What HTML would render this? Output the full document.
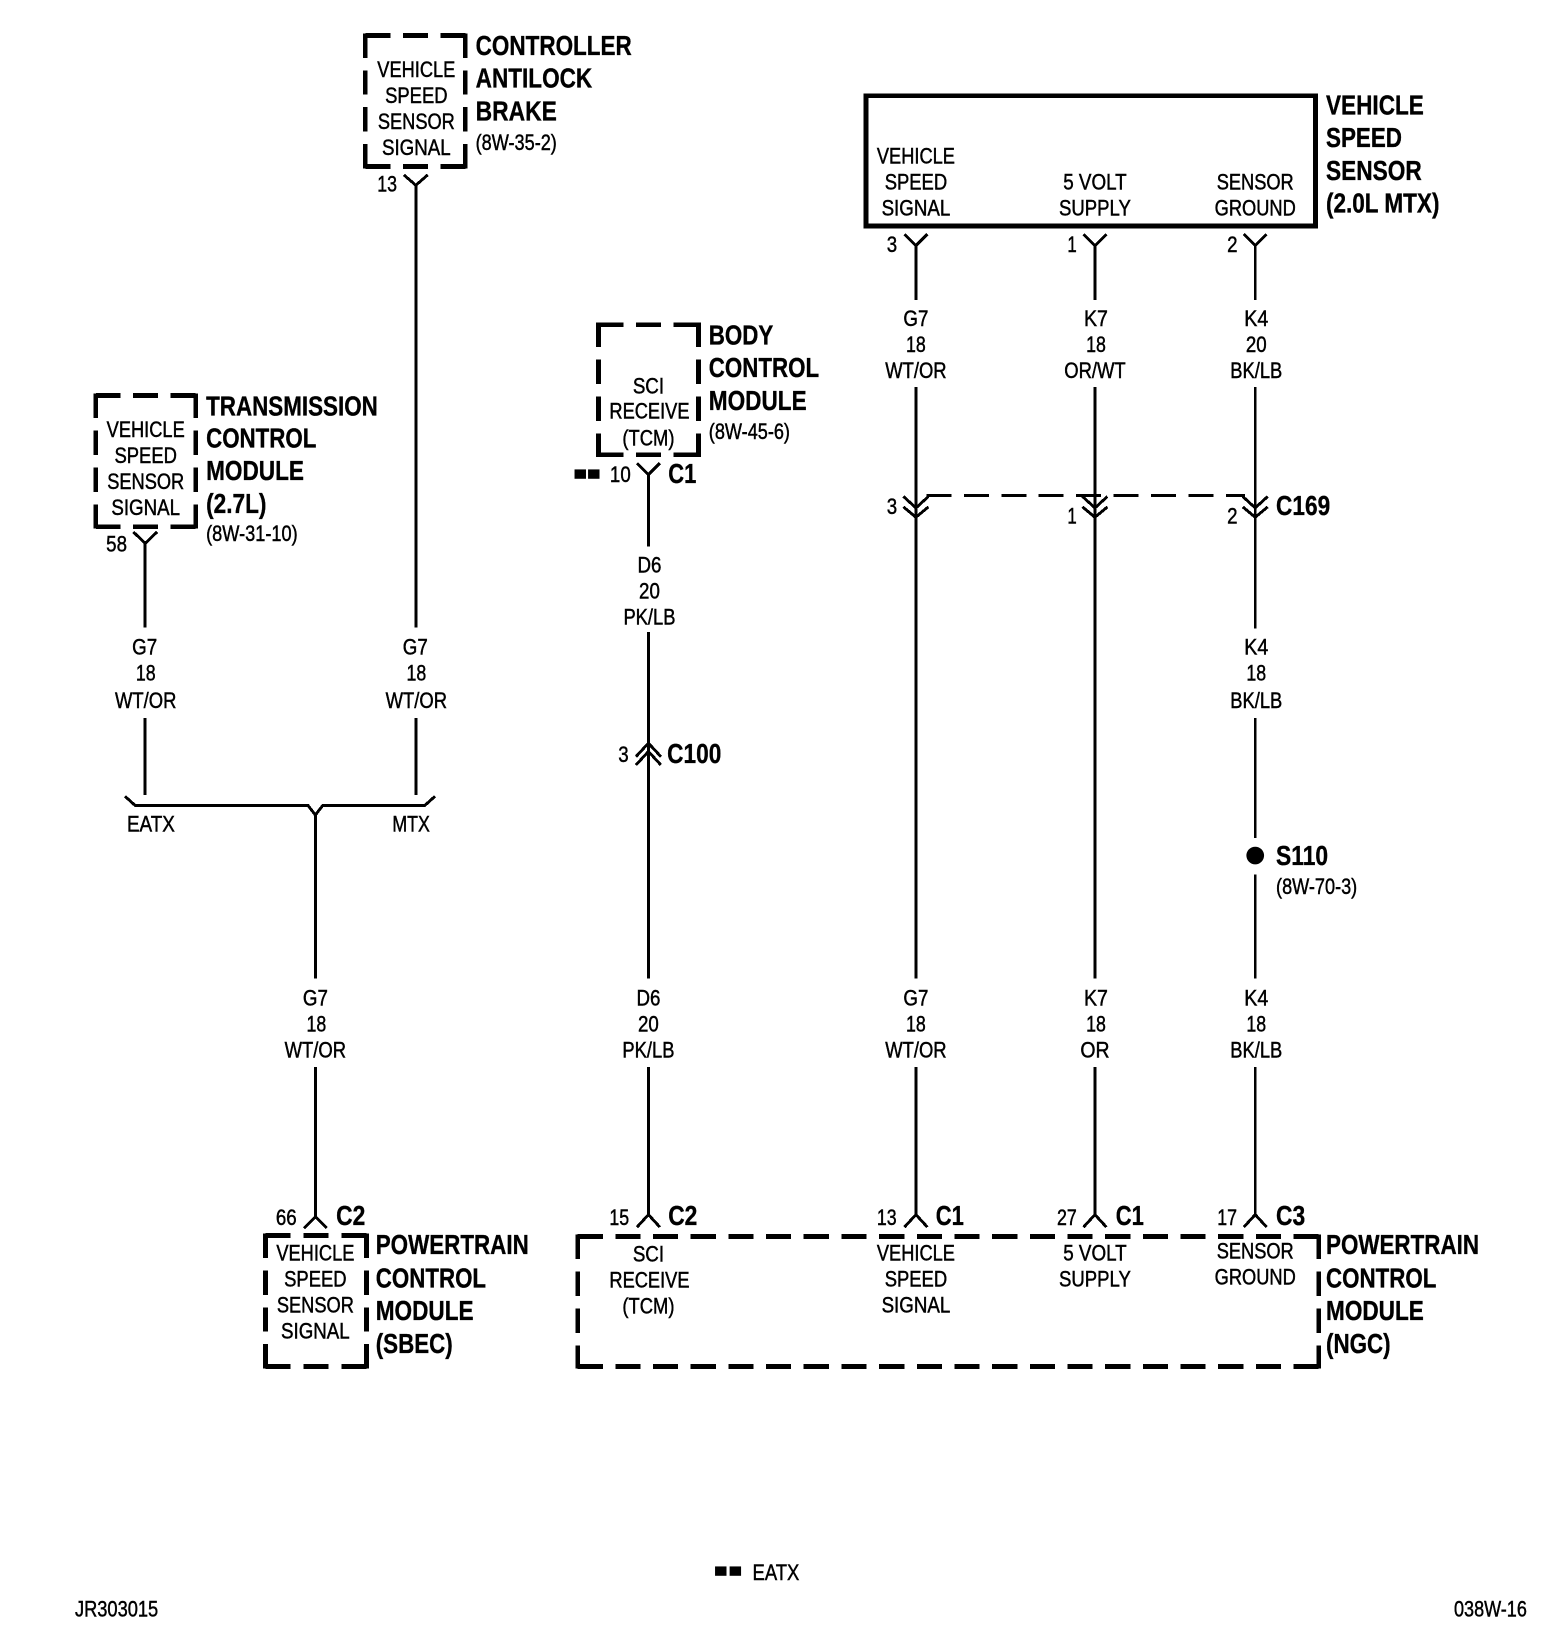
<!DOCTYPE html>
<html><head><meta charset="utf-8"><style>
html,body{margin:0;padding:0;background:#fff;width:1568px;height:1632px;overflow:hidden}
svg{display:block}
text{font-family:"Liberation Sans",sans-serif;fill:#000}
.r{font-size:21px;text-anchor:middle;stroke:#000;stroke-width:.45}
.l{font-size:21px;stroke:#000;stroke-width:.45}
.b{font-size:27px;font-weight:bold;stroke:#000;stroke-width:.35}
.w{fill:none;stroke:#000;stroke-width:2.8;shape-rendering:crispEdges}
.d{fill:none;stroke:#000;stroke-width:4.6;shape-rendering:crispEdges}
</style></head><body>
<svg width="1568" height="1632" viewBox="0 0 1506.5 1568" xmlns="http://www.w3.org/2000/svg">
<!-- dashed boxes -->
<g class="d">
<path d="M351 34H447M351 160H447" stroke-dasharray="24 12"/><path d="M351 32V162M447 32V162" stroke-dasharray="23.5 12"/>
<path d="M575 312H671M575 437H671" stroke-dasharray="24 12"/><path d="M575 310V439M671 310V439" stroke-dasharray="23.5 12"/>
<path d="M92 380H188M92 506H188" stroke-dasharray="24 12"/><path d="M92 378V508M188 378V508" stroke-dasharray="23.5 12"/>
<path d="M255 1187H352M255 1313H352" stroke-dasharray="24 12.5"/><path d="M255 1185V1315M352 1185V1315" stroke-dasharray="23.5 12"/>
<path d="M555 1188H1267M555 1313H1267" stroke-dasharray="24.2 12"/><path d="M555 1186V1315M1267 1186V1315" stroke-dasharray="23.5 12"/>
<rect x="832" y="92" width="432" height="125"/>
</g>
<!-- wires -->
<g class="w">
<path d="M399.5 178V603M399.5 690V764M388 168L399.5 178L411 168"/>
<path d="M139.5 522V603M139.5 690V764M128 511L139.5 522L151 511"/>
<path d="M120 765L130 774H296L303 783L310 774H408L418 765"/>
<path d="M303 783V940M303 1025V1169M292 1180L303 1169L314 1180"/>
<path d="M623 456V525M623 607V940M623 1025V1167M612 445L623 456L634 445M612 1179L623 1167L634 1179"/>
<path d="M611 727L623 714L635 727M611 735L623 722L635 735"/>
<path d="M880 236V288M880 372V940M880 1025V1167M869 225L880 236L891 225M869 1179L880 1167L891 1179"/>
<path d="M1052 236V288M1052 372V940M1052 1025V1167M1041 225L1052 236L1063 225M1041 1179L1052 1167L1063 1179"/>
<path d="M1206 236V288M1206 372V604M1206 690V805M1206 840V940M1206 1025V1167M1195 225L1206 236L1217 225M1195 1179L1206 1167L1217 1179"/>
<path d="M868 477L880 488L892 477M868 487L880 497L892 487"/>
<path d="M1040 477L1052 488L1064 477M1040 487L1052 497L1064 487"/>
<path d="M1194 477L1206 488L1218 477M1194 487L1206 497L1218 487"/>
<path d="M890 476H1196" stroke-dasharray="24 12"/>
</g>
<circle cx="1206" cy="822" r="8.5"/>
<rect x="552" y="451" width="11" height="9"/><rect x="565" y="451" width="11" height="9"/>
<rect x="687" y="1505" width="11" height="9"/><rect x="701" y="1505" width="11" height="9"/>
<!-- box labels -->
<g class="r">
<text lengthAdjust="spacingAndGlyphs" x="400" y="74" textLength="75">VEHICLE</text><text lengthAdjust="spacingAndGlyphs" x="400" y="99" textLength="60">SPEED</text><text lengthAdjust="spacingAndGlyphs" x="400" y="124" textLength="74">SENSOR</text><text lengthAdjust="spacingAndGlyphs" x="400" y="149" textLength="66">SIGNAL</text>
<text lengthAdjust="spacingAndGlyphs" x="140" y="420" textLength="75">VEHICLE</text><text lengthAdjust="spacingAndGlyphs" x="140" y="445" textLength="60">SPEED</text><text lengthAdjust="spacingAndGlyphs" x="140" y="470" textLength="74">SENSOR</text><text lengthAdjust="spacingAndGlyphs" x="140" y="495" textLength="66">SIGNAL</text>
<text lengthAdjust="spacingAndGlyphs" x="623" y="378" textLength="30">SCI</text><text lengthAdjust="spacingAndGlyphs" x="624" y="402" textLength="77">RECEIVE</text><text lengthAdjust="spacingAndGlyphs" x="623" y="428" textLength="50">(TCM)</text>
<text lengthAdjust="spacingAndGlyphs" x="880" y="157" textLength="75">VEHICLE</text><text lengthAdjust="spacingAndGlyphs" x="880" y="182" textLength="60">SPEED</text><text lengthAdjust="spacingAndGlyphs" x="880" y="207" textLength="66">SIGNAL</text>
<text lengthAdjust="spacingAndGlyphs" x="1052" y="182" textLength="61">5 VOLT</text><text lengthAdjust="spacingAndGlyphs" x="1052" y="207" textLength="69">SUPPLY</text>
<text lengthAdjust="spacingAndGlyphs" x="1206" y="182" textLength="74">SENSOR</text><text lengthAdjust="spacingAndGlyphs" x="1206" y="207" textLength="78">GROUND</text>
<text lengthAdjust="spacingAndGlyphs" x="303" y="1211" textLength="75">VEHICLE</text><text lengthAdjust="spacingAndGlyphs" x="303" y="1236" textLength="60">SPEED</text><text lengthAdjust="spacingAndGlyphs" x="303" y="1261" textLength="74">SENSOR</text><text lengthAdjust="spacingAndGlyphs" x="303" y="1286" textLength="66">SIGNAL</text>
<text lengthAdjust="spacingAndGlyphs" x="623" y="1212" textLength="30">SCI</text><text lengthAdjust="spacingAndGlyphs" x="624" y="1237" textLength="77">RECEIVE</text><text lengthAdjust="spacingAndGlyphs" x="623" y="1262" textLength="50">(TCM)</text>
<text lengthAdjust="spacingAndGlyphs" x="880" y="1211" textLength="75">VEHICLE</text><text lengthAdjust="spacingAndGlyphs" x="880" y="1236" textLength="60">SPEED</text><text lengthAdjust="spacingAndGlyphs" x="880" y="1261" textLength="66">SIGNAL</text>
<text lengthAdjust="spacingAndGlyphs" x="1052" y="1211" textLength="61">5 VOLT</text><text lengthAdjust="spacingAndGlyphs" x="1052" y="1236" textLength="69">SUPPLY</text>
<text lengthAdjust="spacingAndGlyphs" x="1206" y="1209" textLength="74">SENSOR</text><text lengthAdjust="spacingAndGlyphs" x="1206" y="1234" textLength="78">GROUND</text>
<!-- wire labels -->
<text lengthAdjust="spacingAndGlyphs" x="139" y="629" textLength="24">G7</text><text lengthAdjust="spacingAndGlyphs" x="140" y="654" textLength="19">18</text><text lengthAdjust="spacingAndGlyphs" x="140" y="680" textLength="59">WT/OR</text>
<text lengthAdjust="spacingAndGlyphs" x="399" y="629" textLength="24">G7</text><text lengthAdjust="spacingAndGlyphs" x="400" y="654" textLength="19">18</text><text lengthAdjust="spacingAndGlyphs" x="400" y="680" textLength="59">WT/OR</text>
<text lengthAdjust="spacingAndGlyphs" x="624" y="550" textLength="23">D6</text><text lengthAdjust="spacingAndGlyphs" x="624" y="575" textLength="20">20</text><text lengthAdjust="spacingAndGlyphs" x="624" y="600" textLength="50">PK/LB</text>
<text lengthAdjust="spacingAndGlyphs" x="880" y="313" textLength="24">G7</text><text lengthAdjust="spacingAndGlyphs" x="880" y="338" textLength="19">18</text><text lengthAdjust="spacingAndGlyphs" x="880" y="363" textLength="59">WT/OR</text>
<text lengthAdjust="spacingAndGlyphs" x="1053" y="313" textLength="23">K7</text><text lengthAdjust="spacingAndGlyphs" x="1053" y="338" textLength="19">18</text><text lengthAdjust="spacingAndGlyphs" x="1052" y="363" textLength="59">OR/WT</text>
<text lengthAdjust="spacingAndGlyphs" x="1207" y="313" textLength="23">K4</text><text lengthAdjust="spacingAndGlyphs" x="1207" y="338" textLength="20">20</text><text lengthAdjust="spacingAndGlyphs" x="1207" y="363" textLength="50">BK/LB</text>
<text lengthAdjust="spacingAndGlyphs" x="1207" y="629" textLength="23">K4</text><text lengthAdjust="spacingAndGlyphs" x="1207" y="654" textLength="19">18</text><text lengthAdjust="spacingAndGlyphs" x="1207" y="680" textLength="50">BK/LB</text>
<text lengthAdjust="spacingAndGlyphs" x="303" y="966" textLength="24">G7</text><text lengthAdjust="spacingAndGlyphs" x="304" y="991" textLength="19">18</text><text lengthAdjust="spacingAndGlyphs" x="303" y="1016" textLength="59">WT/OR</text>
<text lengthAdjust="spacingAndGlyphs" x="623" y="966" textLength="23">D6</text><text lengthAdjust="spacingAndGlyphs" x="623" y="991" textLength="20">20</text><text lengthAdjust="spacingAndGlyphs" x="623" y="1016" textLength="50">PK/LB</text>
<text lengthAdjust="spacingAndGlyphs" x="880" y="966" textLength="24">G7</text><text lengthAdjust="spacingAndGlyphs" x="880" y="991" textLength="19">18</text><text lengthAdjust="spacingAndGlyphs" x="880" y="1016" textLength="59">WT/OR</text>
<text lengthAdjust="spacingAndGlyphs" x="1053" y="966" textLength="23">K7</text><text lengthAdjust="spacingAndGlyphs" x="1053" y="991" textLength="19">18</text><text lengthAdjust="spacingAndGlyphs" x="1052" y="1016" textLength="28">OR</text>
<text lengthAdjust="spacingAndGlyphs" x="1207" y="966" textLength="23">K4</text><text lengthAdjust="spacingAndGlyphs" x="1207" y="991" textLength="19">18</text><text lengthAdjust="spacingAndGlyphs" x="1207" y="1016" textLength="50">BK/LB</text>
<text lengthAdjust="spacingAndGlyphs" x="145" y="799" textLength="46">EATX</text><text lengthAdjust="spacingAndGlyphs" x="395" y="799" textLength="36">MTX</text>
<!-- pins -->
<text lengthAdjust="spacingAndGlyphs" x="372" y="184" textLength="19">13</text><text lengthAdjust="spacingAndGlyphs" x="112" y="530" textLength="20">58</text><text lengthAdjust="spacingAndGlyphs" x="596" y="463" textLength="20">10</text>
<text lengthAdjust="spacingAndGlyphs" x="599" y="732" textLength="10">3</text>
<text lengthAdjust="spacingAndGlyphs" x="857" y="242" textLength="10">3</text><text lengthAdjust="spacingAndGlyphs" x="1030" y="242" textLength="9">1</text><text lengthAdjust="spacingAndGlyphs" x="1184" y="242" textLength="10">2</text>
<text lengthAdjust="spacingAndGlyphs" x="857" y="494" textLength="10">3</text><text lengthAdjust="spacingAndGlyphs" x="1030" y="503" textLength="9">1</text><text lengthAdjust="spacingAndGlyphs" x="1184" y="503" textLength="10">2</text>
<text lengthAdjust="spacingAndGlyphs" x="275" y="1177" textLength="20">66</text><text lengthAdjust="spacingAndGlyphs" x="595" y="1177" textLength="19">15</text><text lengthAdjust="spacingAndGlyphs" x="852" y="1177" textLength="19">13</text><text lengthAdjust="spacingAndGlyphs" x="1025" y="1177" textLength="19">27</text><text lengthAdjust="spacingAndGlyphs" x="1179" y="1177" textLength="19">17</text>
</g>
<!-- left-aligned small -->
<g class="l">
<text lengthAdjust="spacingAndGlyphs" x="457" y="144" textLength="78">(8W-35-2)</text>
<text lengthAdjust="spacingAndGlyphs" x="681" y="422" textLength="78">(8W-45-6)</text>
<text lengthAdjust="spacingAndGlyphs" x="198" y="520" textLength="88">(8W-31-10)</text>
<text lengthAdjust="spacingAndGlyphs" x="1226" y="859" textLength="78">(8W-70-3)</text>
<text lengthAdjust="spacingAndGlyphs" x="723" y="1518" textLength="45">EATX</text>
<text lengthAdjust="spacingAndGlyphs" x="72" y="1553" textLength="80">JR303015</text>
<text lengthAdjust="spacingAndGlyphs" x="1397" y="1553" textLength="70">038W-16</text>
</g>
<!-- bold titles -->
<g class="b">
<text lengthAdjust="spacingAndGlyphs" x="457" y="53" textLength="150">CONTROLLER</text><text lengthAdjust="spacingAndGlyphs" x="457" y="84" textLength="112">ANTILOCK</text><text lengthAdjust="spacingAndGlyphs" x="457" y="116" textLength="78">BRAKE</text>
<text lengthAdjust="spacingAndGlyphs" x="681" y="331" textLength="62">BODY</text><text lengthAdjust="spacingAndGlyphs" x="681" y="362" textLength="106">CONTROL</text><text lengthAdjust="spacingAndGlyphs" x="681" y="394" textLength="94">MODULE</text>
<text lengthAdjust="spacingAndGlyphs" x="198" y="399" textLength="165">TRANSMISSION</text><text lengthAdjust="spacingAndGlyphs" x="198" y="430" textLength="106">CONTROL</text><text lengthAdjust="spacingAndGlyphs" x="198" y="461" textLength="94">MODULE</text><text lengthAdjust="spacingAndGlyphs" x="198" y="493" textLength="58">(2.7L)</text>
<text lengthAdjust="spacingAndGlyphs" x="1274" y="110" textLength="94">VEHICLE</text><text lengthAdjust="spacingAndGlyphs" x="1274" y="141" textLength="73">SPEED</text><text lengthAdjust="spacingAndGlyphs" x="1274" y="173" textLength="92">SENSOR</text><text lengthAdjust="spacingAndGlyphs" x="1274" y="204" textLength="109">(2.0L MTX)</text>
<text lengthAdjust="spacingAndGlyphs" x="361" y="1205" textLength="147">POWERTRAIN</text><text lengthAdjust="spacingAndGlyphs" x="361" y="1237" textLength="106">CONTROL</text><text lengthAdjust="spacingAndGlyphs" x="361" y="1268" textLength="94">MODULE</text><text lengthAdjust="spacingAndGlyphs" x="361" y="1300" textLength="74">(SBEC)</text>
<text lengthAdjust="spacingAndGlyphs" x="1274" y="1205" textLength="147">POWERTRAIN</text><text lengthAdjust="spacingAndGlyphs" x="1274" y="1237" textLength="106">CONTROL</text><text lengthAdjust="spacingAndGlyphs" x="1274" y="1268" textLength="94">MODULE</text><text lengthAdjust="spacingAndGlyphs" x="1274" y="1300" textLength="62">(NGC)</text>
<text lengthAdjust="spacingAndGlyphs" x="642" y="464" textLength="27">C1</text><text lengthAdjust="spacingAndGlyphs" x="641" y="733" textLength="52">C100</text><text lengthAdjust="spacingAndGlyphs" x="1226" y="495" textLength="52">C169</text><text lengthAdjust="spacingAndGlyphs" x="1226" y="831" textLength="50">S110</text>
<text lengthAdjust="spacingAndGlyphs" x="323" y="1177" textLength="28">C2</text><text lengthAdjust="spacingAndGlyphs" x="642" y="1177" textLength="28">C2</text><text lengthAdjust="spacingAndGlyphs" x="899" y="1177" textLength="27">C1</text><text lengthAdjust="spacingAndGlyphs" x="1072" y="1177" textLength="27">C1</text><text lengthAdjust="spacingAndGlyphs" x="1226" y="1177" textLength="28">C3</text>
</g>
</svg>
</body></html>
